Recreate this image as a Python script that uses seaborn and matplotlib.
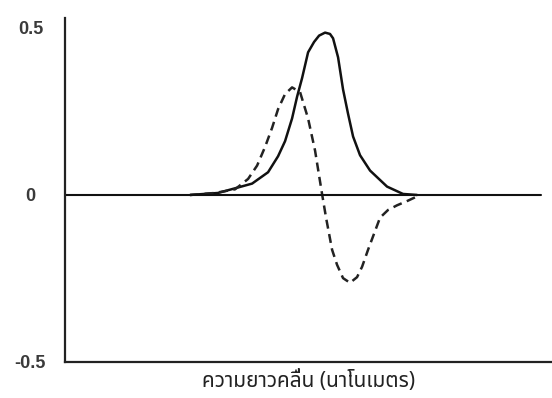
import matplotlib
matplotlib.use("Agg")
import matplotlib.pyplot as plt
import seaborn as sns

# Solid curve (absorption-like peak)
solid_x = [25.67, 31.42, 38.40, 41.68, 43.74, 45.17, 46.61, 47.64, 48.67, 49.90, 51.13, 52.16,
           53.39, 54.40, 55.03, 56.06, 57.08, 58.11, 59.14, 60.57, 62.63, 66.12, 69.40, 72.28]
solid_y = [0.0, 0.006, 0.034, 0.068, 0.116, 0.161, 0.229, 0.294, 0.350, 0.427, 0.458, 0.477,
           0.486, 0.482, 0.469, 0.412, 0.316, 0.243, 0.175, 0.119, 0.073, 0.025, 0.003, 0.0]

# Dashed curve (derivative-like shape)
dash_x = [25.67, 30.80, 34.91, 37.58, 39.43, 41.07, 42.51, 43.74, 45.17, 46.61, 48.25, 49.90,
          51.33, 52.77, 53.59, 54.83, 55.85, 57.08, 58.52, 59.96, 60.99, 62.22, 63.45, 64.68,
          66.32, 68.17, 70.43, 72.48]
dash_y = [0.0, 0.006, 0.017, 0.048, 0.088, 0.144, 0.201, 0.257, 0.302, 0.322, 0.308, 0.229,
          0.133, 0.003, -0.068, -0.164, -0.209, -0.249, -0.263, -0.246, -0.215, -0.164, -0.116,
          -0.068, -0.045, -0.031, -0.017, -0.003]

y_ticks = [0.5, 0, -0.5]
y_tick_labels = ["0.5", "0", "-0.5"]
x_label = "ความยาวคลื่น (นาโนเมตร)"

sns.set_theme(style="white")
plt.rcParams['font.family'] = ['Liberation Sans', 'DejaVu Sans']

fig, ax = plt.subplots(figsize=(5.52, 3.98), dpi=100)
fig.subplots_adjust(left=0.118, right=1.0, top=0.955, bottom=0.0905)

sns.lineplot(x=solid_x, y=solid_y, ax=ax, color="#111111", lw=1.8, sort=False,
             solid_joinstyle="round")
sns.lineplot(x=dash_x, y=dash_y, ax=ax, color="#222222", lw=1.8, sort=False,
             linestyle=(0, (3.6, 2.2)))
ax.plot([0, 97.7], [0, 0], color="#111111", lw=1.5)

ax.set_xlim(0, 100)
ax.set_ylim(-0.5, 0.53)
ax.set_yticks(y_ticks)
ax.set_yticklabels(y_tick_labels, fontweight="bold")
for lab in ax.get_yticklabels():
    lab.set_ha("center")
ax.set_xticks([])
ax.tick_params(axis="y", length=0, pad=25, labelsize=13, labelcolor="#3a3a3a")
for s in ["top", "right"]:
    ax.spines[s].set_visible(False)
for s in ["left", "bottom"]:
    ax.spines[s].set_color("#222222")
    ax.spines[s].set_linewidth(1.6)
ax.set_xlabel(x_label, fontsize=15, color="#222222", labelpad=6, fontweight="bold",
              family=['Noto Sans Thai', 'DejaVu Sans'])
fig.savefig("out.png", dpi=100)
